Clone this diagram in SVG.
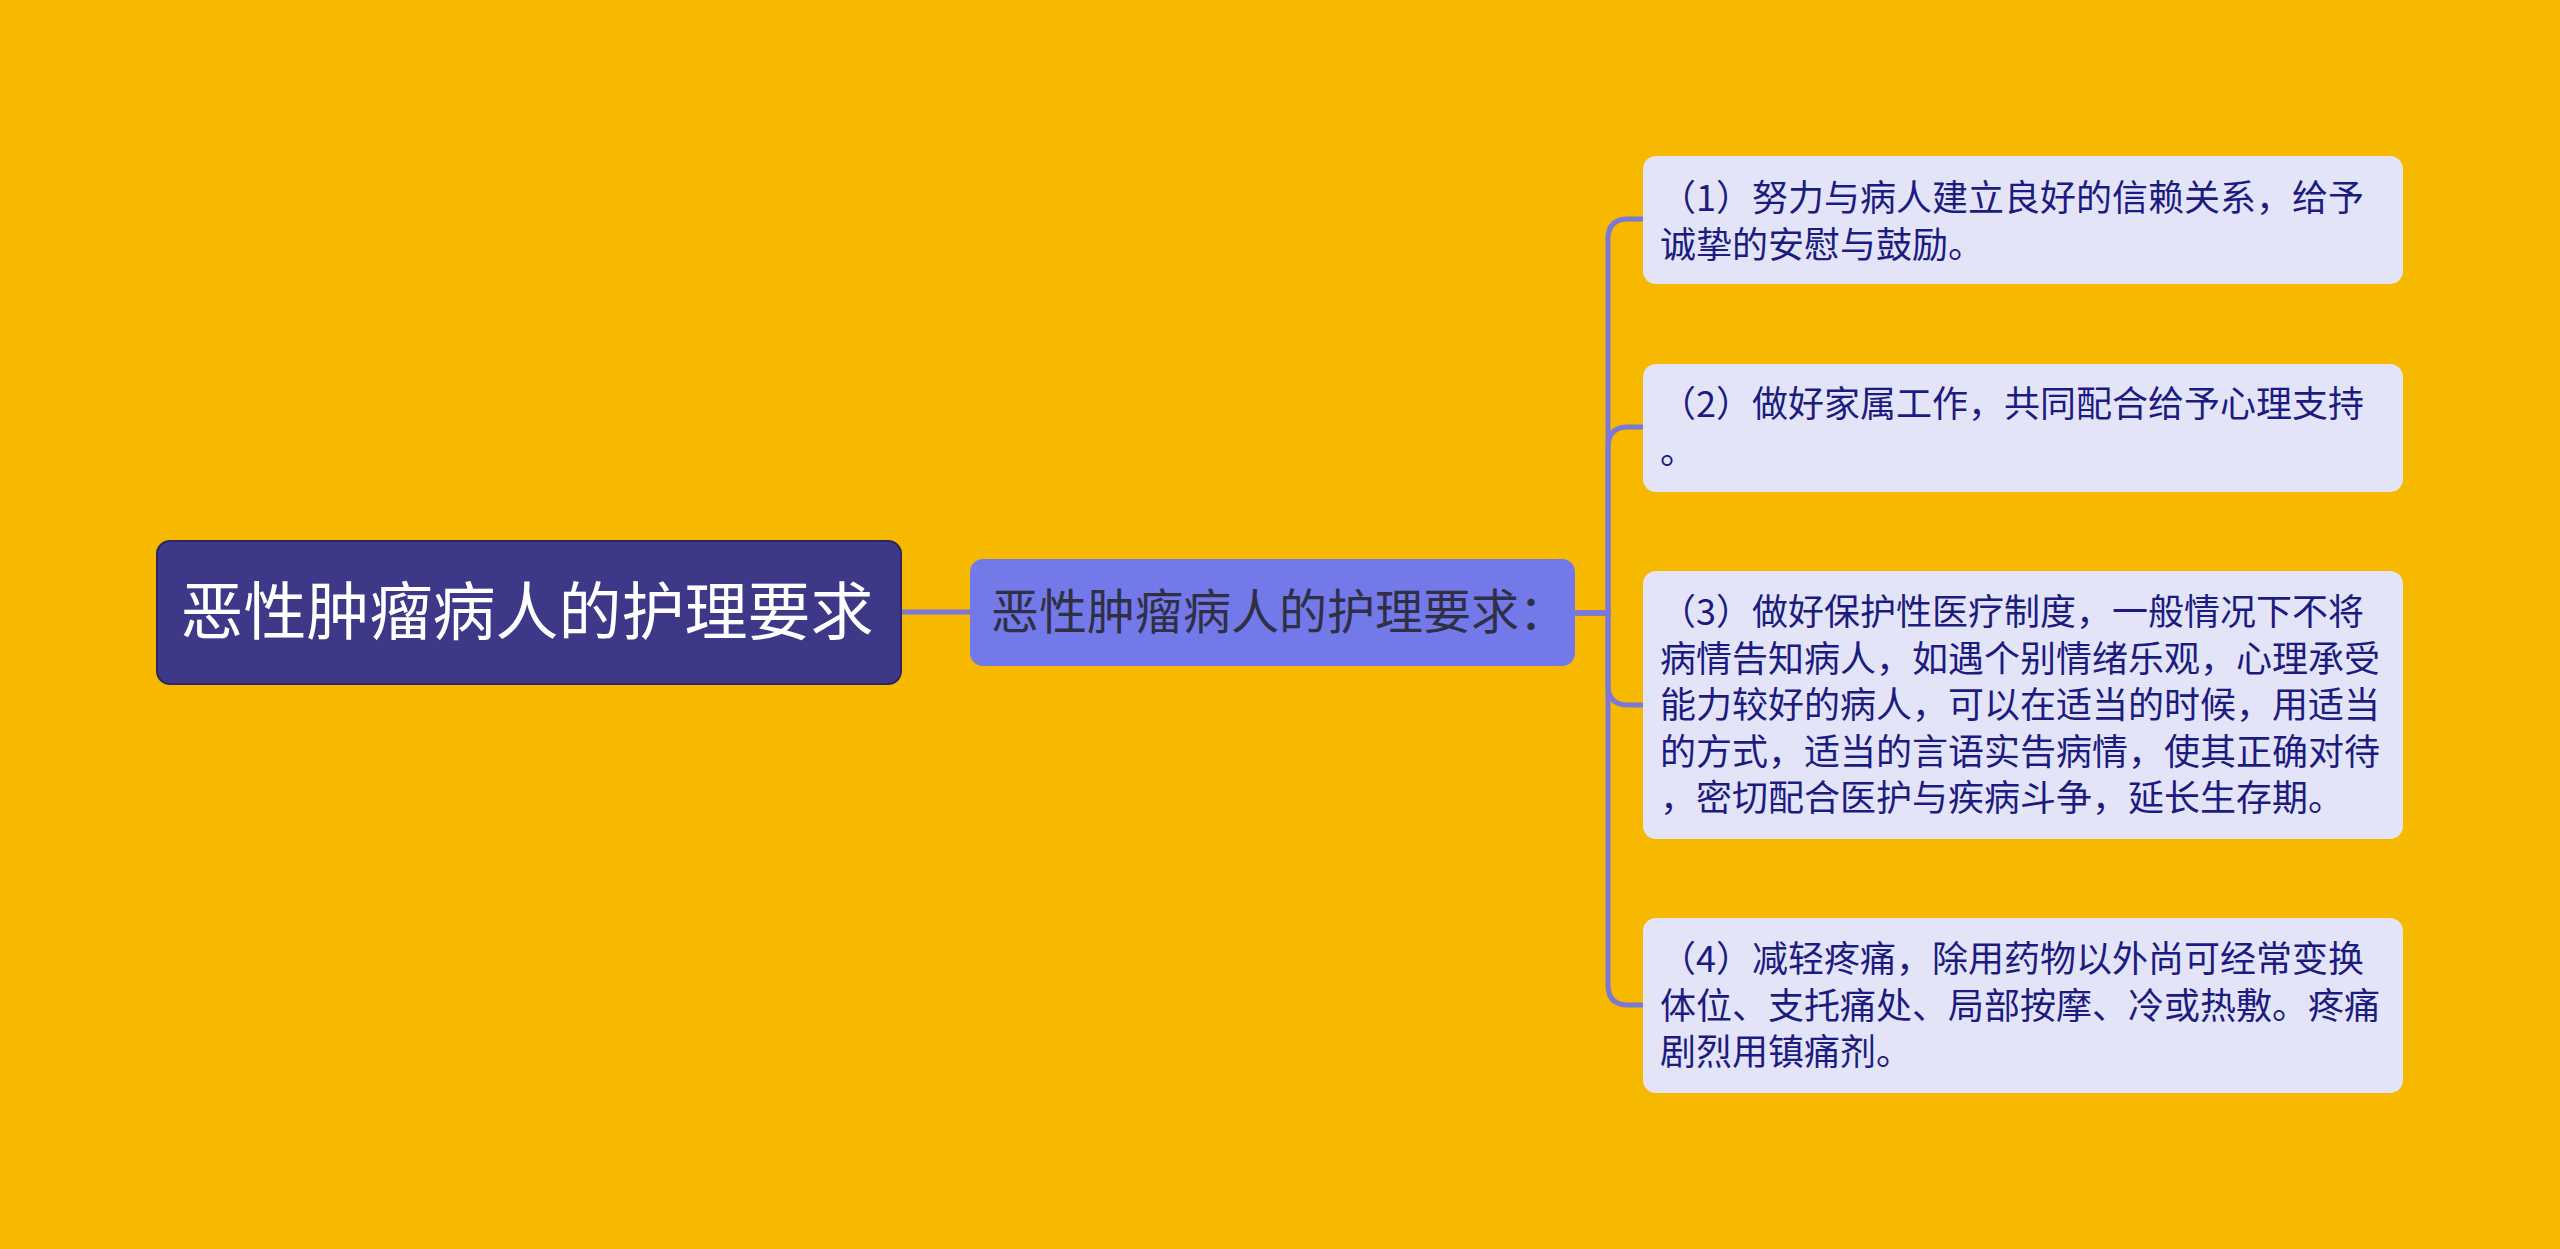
<svg xmlns="http://www.w3.org/2000/svg" width="2560" height="1249" viewBox="0 0 2560 1249">
<style>
.cn{font-family:"Noto Sans CJK SC","Noto Sans",sans-serif}
.leafbox{fill:#e4e4f8}
.leaftxt{font-size:36px;fill:#1c1c80}
.conn{fill:none;stroke:#7b78d8;stroke-width:5;stroke-linecap:round}
</style>
<rect x="0" y="0" width="2560" height="1249" fill="#f6b900"/>
<g id="connectors">
<path class="conn" d="M901,612 H970"/>
<path class="conn" d="M1575,613 H1608 V239 Q1608,219 1628,219 H1643"/>
<path class="conn" d="M1575,613 H1608 V447 Q1608,427 1628,427 H1643"/>
<path class="conn" d="M1575,613 H1608 V685 Q1608,705 1628,705 H1643"/>
<path class="conn" d="M1575,613 H1608 V985 Q1608,1005 1628,1005 H1643"/>
</g>
<g id="root">
<rect x="157" y="541" width="744" height="143" rx="13" fill="#3e3889" stroke="#2c285f" stroke-width="2"/>
<text class="cn" x="527" y="634" font-size="63" fill="#ffffff" text-anchor="middle">恶性肿瘤病人的护理要求</text>
</g>
<g id="middle">
<rect x="970" y="559" width="605" height="107" rx="13" fill="#7479e9"/>
<text class="cn" x="991" y="629" font-size="48" fill="#2f2f45">恶性肿瘤病人的护理要求：</text>
</g>
<g id="leaf1">
<rect class="leafbox" x="1643" y="156" width="760" height="128" rx="13"/>
<text class="cn leaftxt" x="1660"><tspan x="1660" y="211">（1）努力与病人建立良好的信赖关系，给予</tspan><tspan x="1660" y="258">诚挚的安慰与鼓励。</tspan></text>
</g>
<g id="leaf2">
<rect class="leafbox" x="1643" y="364" width="760" height="128" rx="13"/>
<text class="cn leaftxt" x="1660"><tspan x="1660" y="417">（2）做好家属工作，共同配合给予心理支持</tspan><tspan x="1660" y="464">。</tspan></text>
</g>
<g id="leaf3">
<rect class="leafbox" x="1643" y="571" width="760" height="268" rx="13"/>
<text class="cn leaftxt" x="1660"><tspan x="1660" y="625">（3）做好保护性医疗制度，一般情况下不将</tspan><tspan x="1660" y="671.5">病情告知病人，如遇个别情绪乐观，心理承受</tspan><tspan x="1660" y="718">能力较好的病人，可以在适当的时候，用适当</tspan><tspan x="1660" y="764.5">的方式，适当的言语实告病情，使其正确对待</tspan><tspan x="1660" y="811">，密切配合医护与疾病斗争，延长生存期。</tspan></text>
</g>
<g id="leaf4">
<rect class="leafbox" x="1643" y="918" width="760" height="175" rx="13"/>
<text class="cn leaftxt" x="1660"><tspan x="1660" y="972">（4）减轻疼痛，除用药物以外尚可经常变换</tspan><tspan x="1660" y="1018.5">体位、支托痛处、局部按摩、冷或热敷。疼痛</tspan><tspan x="1660" y="1065">剧烈用镇痛剂。</tspan></text>
</g>
</svg>
